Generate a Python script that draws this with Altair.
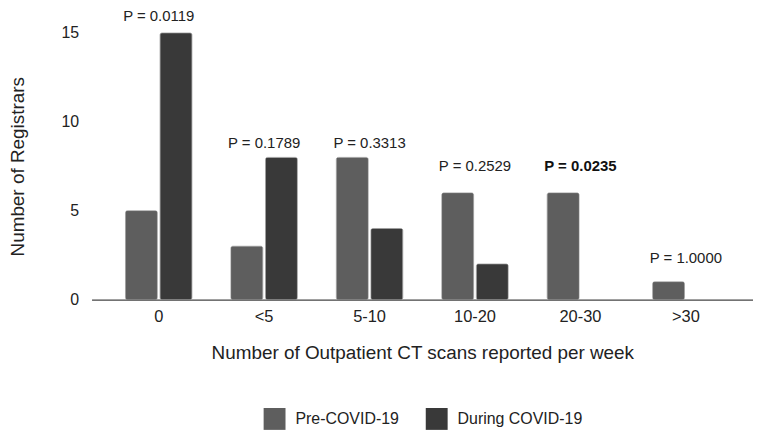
import altair as alt
import pandas as pd

categories = ["0", "<5", "5-10", "10-20", "20-30", ">30"]
pre_covid = [5, 3, 8, 6, 6, 1]
during_covid = [15, 8, 4, 2, 0, 0]
p_labels = ["P = 0.0119", "P = 0.1789", "P = 0.3313", "P = 0.2529", "P = 0.0235", "P = 1.0000"]
p_label_y = [15.95, 8.8, 8.8, 7.5, 7.5, 2.35]
p_bold = [False, False, False, False, True, False]
series = ["Pre-COVID-19", "During COVID-19"]

rows = []
for c, a, b in zip(categories, pre_covid, during_covid):
    rows.append({"cat": c, "series": series[0], "value": a})
    rows.append({"cat": c, "series": series[1], "value": b})
bars_df = pd.DataFrame(rows)
labels_df = pd.DataFrame({"cat": categories, "label": p_labels, "y": p_label_y,
                          "bold": p_bold})

FONT = "Liberation Sans"

x_enc = alt.X("cat:N", sort=categories,
              scale=alt.Scale(paddingInner=0.37, paddingOuter=0.322),
              axis=alt.Axis(title="Number of Outpatient CT scans reported per week",
                            labelAngle=0, labelFontSize=16.5, labelColor="#222",
                            labelPadding=9, ticks=False, domainColor="#444",
                            domainWidth=1.2, titleFontSize=19, titleFontWeight="normal",
                            titleColor="#222", titlePadding=19, grid=False))

bars = alt.Chart(bars_df).mark_bar(cornerRadius=2, stroke="#777", strokeWidth=0.6).encode(
    x=x_enc,
    xOffset=alt.XOffset("series:N", sort=series, scale=alt.Scale(paddingInner=0.08)),
    y=alt.Y("value:Q", scale=alt.Scale(domain=[0, 15], nice=False),
            axis=alt.Axis(title="Number of Registrars", values=[0, 5, 10, 15],
                          domain=False, ticks=False, grid=False, labelFontSize=16,
                          labelColor="#222", labelPadding=13, titleFontSize=19,
                          titleFontWeight="normal", titleColor="#222", titlePadding=34)),
    color=alt.Color("series:N", sort=series,
                    scale=alt.Scale(domain=series, range=["#5e5e5e", "#393939"]),
                    legend=alt.Legend(title=None, orient="none", direction="horizontal",
                                      legendX=173, legendY=377, symbolType="square",
                                      symbolSize=484, symbolStrokeWidth=0, labelFontSize=16,
                                      labelColor="#222", labelOffset=10, columnPadding=26,
                                      labelFont=FONT)),
).transform_filter("datum.value > 0")

base_text = alt.Chart(labels_df).encode(
    x=alt.X("cat:N", sort=categories),
    y=alt.Y("y:Q"),
    text="label:N",
)
texts_normal = base_text.mark_text(fontSize=15, color="#222", baseline="middle",
                                   font=FONT).transform_filter("!datum.bold")
texts_bold = base_text.mark_text(fontSize=15, color="#111", baseline="middle",
                                 font=FONT, fontWeight="bold").transform_filter("datum.bold")

chart = alt.layer(bars, texts_normal, texts_bold).properties(
    width=665, height=268,
    padding={"left": 84, "top": 24, "right": 0, "bottom": 133},
    autosize=alt.AutoSizeParams(type="none"),
).configure(font=FONT).configure_view(stroke=None)

chart.save("out.html", embed_options={"renderer": "svg", "actions": False})
